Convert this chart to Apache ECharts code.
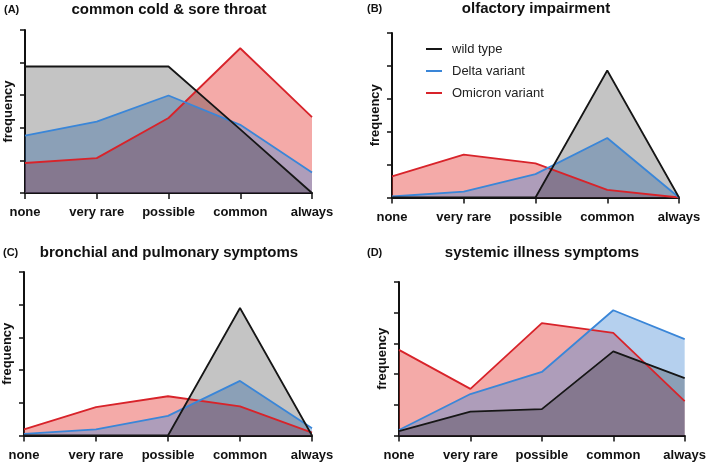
<!DOCTYPE html>
<html>
<head>
<meta charset="utf-8">
<script src="https://cdn.jsdelivr.net/npm/echarts@6/dist/echarts.min.js"></script>
<style>html,body{margin:0;padding:0;background:#fff}#c{width:709px;height:462px}</style>
</head>
<body>
<div id="c"></div>
<script>
var categories = ['none', 'very rare', 'possible', 'common', 'always'];
var seriesNames = ['wild type', 'Delta variant', 'Omicron variant'];
var panelTitles = ['common cold & sore throat', 'olfactory impairment', 'bronchial and pulmonary symptoms', 'systemic illness symptoms'];
var panelLetters = ['(A)', '(B)', '(C)', '(D)'];
var yTicks = [0, 1, 2, 3, 4, 5];

var A_wild    = [3.88, 3.88, 3.88, 1.95, 0];
var A_delta   = [1.76, 2.19, 2.99, 2.09, 0.63];
var A_omicron = [0.92, 1.07, 2.30, 4.44, 2.33];

var B_wild    = [0, 0, 0, 3.86, 0];
var B_delta   = [0.03, 0.18, 0.71, 1.81, 0];
var B_omicron = [0.64, 1.30, 1.04, 0.23, 0];

var C_wild    = [0, 0, 0, 3.90, 0];
var C_delta   = [0.05, 0.19, 0.60, 1.67, 0.22];
var C_omicron = [0.19, 0.87, 1.20, 0.89, 0.09];

var D_wild    = [0.14, 0.78, 0.86, 2.74, 1.87];
var D_delta   = [0.18, 1.35, 2.07, 4.08, 3.14];
var D_omicron = [2.79, 1.52, 3.66, 3.34, 1.12];

var panelData = [
  [A_wild, A_delta, A_omicron],
  [B_wild, B_delta, B_omicron],
  [C_wild, C_delta, C_omicron],
  [D_wild, D_delta, D_omicron]
];

var lineColors = ['#161616', '#3a86d8', '#d8232a'];
var areaColors = ['rgba(0,0,0,0.23)', 'rgba(70,138,213,0.4)', 'rgba(228,43,38,0.4)'];

var grids = [
  {left: 25, top: 30, width: 287, height: 163},
  {left: 392, top: 33, width: 287, height: 164.5},
  {left: 24, top: 272, width: 288, height: 163.5},
  {left: 399, top: 282, width: 287, height: 153.5}
];
var titlePos = [
  {lx: 4, tx: 169, y: 10},
  {lx: 367, tx: 536, y: 9},
  {lx: 3, tx: 169, y: 253},
  {lx: 367, tx: 542, y: 253}
];

var FONT = '"Liberation Sans", Arial, Helvetica, sans-serif';

var xAxes = [], yAxes = [], series = [], graphics = [];
for (var p = 0; p < 4; p++) {
  xAxes.push({
    type: 'category', gridIndex: p, data: categories, boundaryGap: false,
    axisLine: {lineStyle: {color: '#111', width: 2}},
    axisTick: {show: true, length: 6, lineStyle: {color: '#111', width: 1.5}},
    axisLabel: {color: '#111', fontSize: 13, fontWeight: 'bold', fontFamily: FONT, margin: 13, interval: 0},
    splitLine: {show: false}
  });
  yAxes.push({
    type: 'value', gridIndex: p, min: yTicks[0], max: yTicks[yTicks.length - 1], interval: 1,
    name: 'frequency', nameLocation: 'middle', nameRotate: 90, nameGap: 10,
    nameTextStyle: {color: '#111', fontSize: 13, fontWeight: 'bold', fontFamily: FONT},
    axisLine: {show: true, lineStyle: {color: '#111', width: 2}},
    axisTick: {show: true, length: 5, lineStyle: {color: '#111', width: 1.5}},
    axisLabel: {show: false},
    splitLine: {show: false}
  });
  var order = [2, 1, 0];
  for (var k = 0; k < 3; k++) {
    var s = order[k];
    series.push({
      name: seriesNames[s], type: 'line', xAxisIndex: p, yAxisIndex: p,
      data: panelData[p][s], symbol: 'none', z: 2,
      itemStyle: {color: lineColors[s]},
      lineStyle: {width: 0, opacity: 0},
      areaStyle: {color: areaColors[s], opacity: 1},
      silent: true
    });
  }
  for (var k2 = 0; k2 < 3; k2++) {
    var s2 = order[k2];
    series.push({
      name: seriesNames[s2], type: 'line', xAxisIndex: p, yAxisIndex: p,
      data: panelData[p][s2], symbol: 'none', z: 3,
      itemStyle: {color: lineColors[s2]},
      lineStyle: {width: 1.8, color: lineColors[s2]},
      silent: true
    });
  }
  graphics.push({
    type: 'text', x: titlePos[p].lx, y: titlePos[p].y,
    style: {text: panelLetters[p], font: 'bold 11px ' + FONT, fill: '#111', textAlign: 'left', textVerticalAlign: 'middle'}
  });
  graphics.push({
    type: 'text', x: titlePos[p].tx, y: titlePos[p].y,
    style: {text: panelTitles[p], font: 'bold 15px ' + FONT, fill: '#111', textAlign: 'center', textVerticalAlign: 'middle'}
  });
}

var chart = echarts.init(document.getElementById('c'), null, {renderer: 'canvas'});
chart.setOption({
  animation: false,
  backgroundColor: '#fff',
  grid: grids,
  xAxis: xAxes,
  yAxis: yAxes,
  series: series,
  graphic: graphics,
  legend: {
    data: seriesNames.map(function (n) { return {name: n, icon: 'rect'}; }),
    orient: 'vertical', left: 426, top: 41, padding: 0,
    itemWidth: 16, itemHeight: 2, itemGap: 6,
    textStyle: {fontSize: 13, color: '#222', fontFamily: FONT, lineHeight: 16, padding: [0, 0, 0, 5]},
    selectedMode: false
  }
});
</script>
</body>
</html>
